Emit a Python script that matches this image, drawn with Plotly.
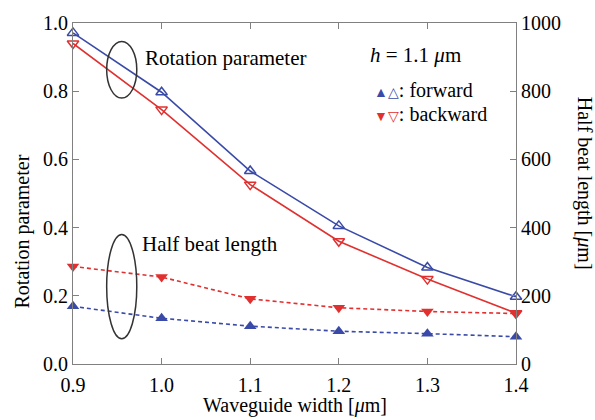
import plotly.graph_objects as go

width = [0.9, 1.0, 1.1, 1.2, 1.3, 1.4]
rot_forward = [0.971, 0.797, 0.566, 0.405, 0.283, 0.197]
rot_backward = [0.940, 0.746, 0.526, 0.360, 0.249, 0.149]
hbl_forward = [169, 134, 111, 96, 89, 80]
hbl_backward = [286, 255, 191, 165, 154, 148]

xticks = [0.9, 1.0, 1.1, 1.2, 1.3, 1.4]
yticks = [0.0, 0.2, 0.4, 0.6, 0.8, 1.0]
y2ticks = [0, 200, 400, 600, 800, 1000]

BLUE = "#3a4aa8"
RED = "#e0302f"
AX = "#808080"
FONT = "Liberation Serif"

fig = go.Figure()
fig.add_trace(go.Scatter(x=width, y=rot_forward, mode="lines+markers",
                         line=dict(color=BLUE, width=1.6),
                         marker=dict(symbol="triangle-up-open", size=10, color=BLUE, line=dict(width=1.5)),
                         cliponaxis=False))
fig.add_trace(go.Scatter(x=width, y=rot_backward, mode="lines+markers",
                         line=dict(color=RED, width=1.6),
                         marker=dict(symbol="triangle-down-open", size=10, color=RED, line=dict(width=1.5)),
                         cliponaxis=False))
fig.add_trace(go.Scatter(x=width, y=hbl_backward, yaxis="y2", mode="lines+markers",
                         line=dict(color=RED, width=1.6, dash="4px,3px"),
                         marker=dict(symbol="triangle-down", size=11, color=RED),
                         cliponaxis=False))
fig.add_trace(go.Scatter(x=width, y=hbl_forward, yaxis="y2", mode="lines+markers",
                         line=dict(color=BLUE, width=1.6, dash="4px,3px"),
                         marker=dict(symbol="triangle-up", size=11, color=BLUE),
                         cliponaxis=False))

axis_common = dict(showgrid=False, zeroline=False, showline=True, linecolor=AX, linewidth=1.2,
                   ticks="inside", ticklen=6, tickcolor=AX, tickwidth=1.2,
                   tickfont=dict(family=FONT, size=20, color="black"))

fig.update_layout(
    width=595, height=420,
    margin=dict(l=73, r=79, t=14, b=56),
    paper_bgcolor="white", plot_bgcolor="white",
    showlegend=False,
    font=dict(family=FONT, size=20, color="black"),
    xaxis=dict(range=[0.9, 1.4], tickvals=xticks, ticktext=[f"{v:.1f}" for v in xticks],
               mirror="ticks", ticklabelstandoff=3, **axis_common),
    yaxis=dict(range=[0, 1.0], tickvals=yticks, ticktext=[f"{v:.1f}" for v in yticks], **axis_common),
    yaxis2=dict(range=[0, 1000], tickvals=y2ticks, overlaying="y", side="right", **axis_common),
)

fig.add_annotation(text="Waveguide width [<i>μ</i>m]", xref="paper", yref="paper", x=0.5, y=(364 - 407) / 350,
                   xanchor="center", yanchor="middle", showarrow=False, font=dict(family=FONT, size=20))
fig.add_annotation(text="Rotation parameter", xref="paper", yref="paper", x=(22 - 73) / 443,
                   y=(364 - 228) / 350, xanchor="center", yanchor="middle",
                   textangle=-90, showarrow=False, font=dict(family=FONT, size=20))
fig.add_annotation(text="Half beat length [<i>μ</i>m]", xref="paper", yref="paper", x=(584 - 73) / 443,
                   y=(364 - 178) / 350, xanchor="center", yanchor="middle",
                   textangle=90, showarrow=False, font=dict(family=FONT, size=20))

fig.add_annotation(text="Rotation parameter", xref="paper", yref="paper", x=0.158, y=0.897,
                   xanchor="left", yanchor="middle", showarrow=False, font=dict(family=FONT, size=21))
fig.add_annotation(text="Half beat length", xref="paper", yref="paper", x=0.151, y=0.351,
                   xanchor="left", yanchor="middle", showarrow=False, font=dict(family=FONT, size=21))
fig.add_annotation(text="<i>h</i> = 1.1 <i>μ</i>m", xref="paper", yref="paper", x=0.666, y=0.906,
                   xanchor="left", yanchor="middle", showarrow=False, font=dict(family=FONT, size=21))
fig.add_annotation(text=f"<span style='color:{BLUE};font-size:14px'>▲△</span>: forward",
                   xref="paper", yref="paper", x=0.675, y=0.803,
                   xanchor="left", yanchor="middle", showarrow=False, font=dict(family=FONT, size=20))
fig.add_annotation(text=f"<span style='color:{RED};font-size:14px'>▼▽</span>: backward",
                   xref="paper", yref="paper", x=0.675, y=0.734,
                   xanchor="left", yanchor="middle", showarrow=False, font=dict(family=FONT, size=20))

fig.add_shape(type="circle", xref="x", yref="y", x0=0.938, x1=0.972, y0=0.78, y1=0.946,
              line=dict(color="#333333", width=1.5))
fig.add_shape(type="circle", xref="x", yref="y", x0=0.938, x1=0.972, y0=0.074, y1=0.38,
              line=dict(color="#333333", width=1.5))

fig.write_html("out.html")
